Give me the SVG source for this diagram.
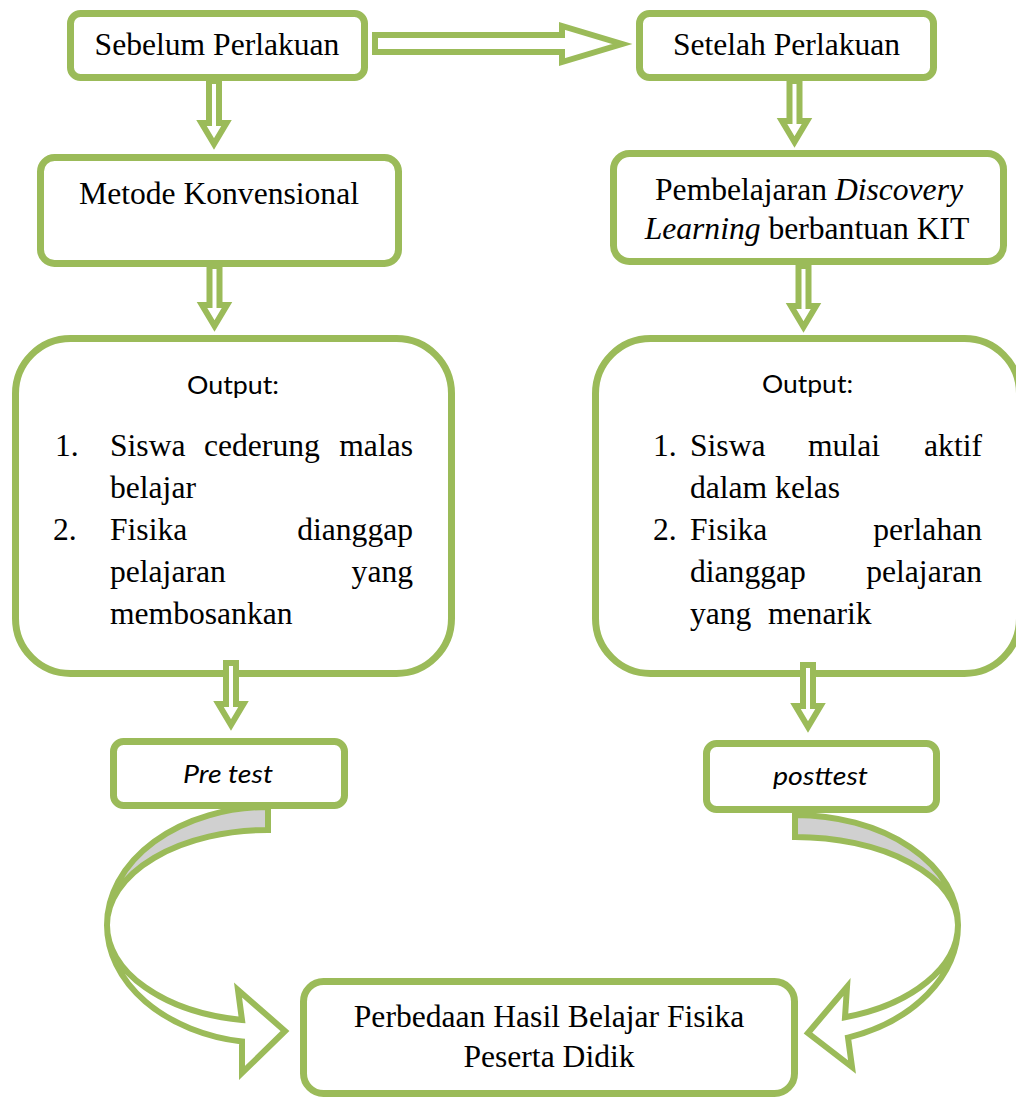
<svg xmlns="http://www.w3.org/2000/svg" width="1016" height="1097" viewBox="0 0 1016 1097">
<style>
.box{fill:#ffffff;stroke:#9BBB59;stroke-width:7}
.arr{fill:#ffffff;stroke:#9BBB59;stroke-width:6;stroke-linejoin:miter}
.curve{stroke:#9BBB59;stroke-width:6;stroke-linejoin:miter}
.back{fill:#D0D0D0}
.front{fill:#ffffff}
.serif{font-family:"Liberation Serif","Times New Roman",serif;font-size:31.6px;fill:#000}
.sans{font-family:Lato,"Open Sans",sans-serif;font-size:25px;fill:#000}
.it{font-style:italic}
</style>
<rect width="1016" height="1097" fill="#ffffff"/>
<g id="connectors">
  <path class="arr" d="M375,35 H562 V26 L622,44 L562,62 V52 H375 Z"/>
  <path class="curve back" d="M268,807 A161,118 0 0 0 107,925 A161,95 0 0 1 268,830 Z"/>
  <path class="curve front" d="M107,925 A161,118 0 0 0 242,1041.5 L242,1073 L285,1031 L238,990 L242,1020 A161,96 0 0 1 107,925 Z"/>
  <path class="curve back" d="M795,815 A163,110 0 0 1 958,925 A163,88 0 0 0 795,837 Z"/>
  <path class="curve front" d="M958,925 A163,119 0 0 1 848,1037.6 L852,1067 L808,1033 L847,987 L845,1017.3 A163,97 0 0 0 958,925 Z"/>
</g>
<g id="node-sebelum">
  <rect class="box" x="70.5" y="13.5" width="294" height="64" rx="10"/>
  <text class="serif" x="217" y="55" text-anchor="middle">Sebelum Perlakuan</text>
</g>
<g id="node-setelah">
  <rect class="box" x="639.5" y="13.5" width="294" height="64" rx="10"/>
  <text class="serif" x="786.5" y="55" text-anchor="middle">Setelah Perlakuan</text>
</g>
<g id="node-metode">
  <rect class="box" x="40.5" y="157.5" width="358" height="106" rx="14"/>
  <text class="serif" x="219" y="204" text-anchor="middle">Metode Konvensional</text>
</g>
<g id="node-discovery">
  <rect class="box" x="613.5" y="153.5" width="390" height="108" rx="16"/>
  <text class="serif" x="809" y="200" text-anchor="middle">Pembelajaran <tspan class="it">Discovery</tspan></text>
  <text class="serif" x="807" y="239" text-anchor="middle"><tspan class="it">Learning</tspan> berbantuan KIT</text>
</g>
<g id="node-output-left">
  <rect class="box" x="15.5" y="338.5" width="436" height="335" rx="55"/>
  <text class="sans" x="233" y="394" text-anchor="middle" textLength="92" lengthAdjust="spacingAndGlyphs">Output:</text>
  <text class="serif" x="55" y="456">1.</text>
  <text class="serif" x="110" y="456">Siswa</text>
  <text class="serif" x="204" y="456">cederung</text>
  <text class="serif" x="413" y="456" text-anchor="end">malas</text>
  <text class="serif" x="110" y="498">belajar</text>
  <text class="serif" x="53" y="540">2.</text>
  <text class="serif" x="110" y="540">Fisika</text>
  <text class="serif" x="413" y="540" text-anchor="end">dianggap</text>
  <text class="serif" x="110" y="582">pelajaran</text>
  <text class="serif" x="413" y="582" text-anchor="end">yang</text>
  <text class="serif" x="110" y="624">membosankan</text>
</g>
<g id="node-output-right">
  <rect class="box" x="595.5" y="338.5" width="424" height="335" rx="55"/>
  <text class="sans" x="807.5" y="393" text-anchor="middle" textLength="91" lengthAdjust="spacingAndGlyphs">Output:</text>
  <text class="serif" x="653" y="456">1.</text>
  <text class="serif" x="690" y="456">Siswa</text>
  <text class="serif" x="808" y="456">mulai</text>
  <text class="serif" x="982" y="456" text-anchor="end">aktif</text>
  <text class="serif" x="690" y="498">dalam kelas</text>
  <text class="serif" x="653" y="540">2.</text>
  <text class="serif" x="690" y="540">Fisika</text>
  <text class="serif" x="982" y="540" text-anchor="end">perlahan</text>
  <text class="serif" x="690" y="582">dianggap</text>
  <text class="serif" x="982" y="582" text-anchor="end">pelajaran</text>
  <text class="serif" x="690" y="624">yang</text>
  <text class="serif" x="768" y="624">menarik</text>
</g>
<g id="node-pretest">
  <rect class="box" x="113.5" y="741.5" width="231" height="64" rx="10"/>
  <text class="sans it" x="228" y="783" text-anchor="middle" textLength="90" lengthAdjust="spacingAndGlyphs">Pre test</text>
</g>
<g id="node-posttest">
  <rect class="box" x="706.5" y="743.5" width="230" height="66" rx="10"/>
  <text class="sans it" x="820.5" y="785" text-anchor="middle" textLength="95" lengthAdjust="spacingAndGlyphs">posttest</text>
</g>
<g id="node-hasil">
  <rect class="box" x="303.5" y="981.5" width="491" height="112" rx="20"/>
  <text class="serif" x="549" y="1027" text-anchor="middle">Perbedaan Hasil Belajar Fisika</text>
  <text class="serif" x="549" y="1067" text-anchor="middle">Peserta Didik</text>
</g>
<g id="connectors-down">
  <path class="arr" d="M209,81 H219 V123 H226.5 L214,144 L201.5,123 H209 Z"/>
  <path class="arr" d="M789.5,81 H799.5 V121 H807 L794.5,142 L782,121 H789.5 Z"/>
  <path class="arr" d="M209.5,266 H219.5 V305 H227 L214.5,326 L202,305 H209.5 Z"/>
  <path class="arr" d="M798.5,266 H808.5 V306 H816 L803.5,327 L791,306 H798.5 Z"/>
  <path class="arr" d="M226,663 H236 V704 H243.5 L231,725 L218.5,704 H226 Z"/>
  <path class="arr" d="M803,665 H813 V706 H820.5 L808,727 L795.5,706 H803 Z"/>
</g>
</svg>
